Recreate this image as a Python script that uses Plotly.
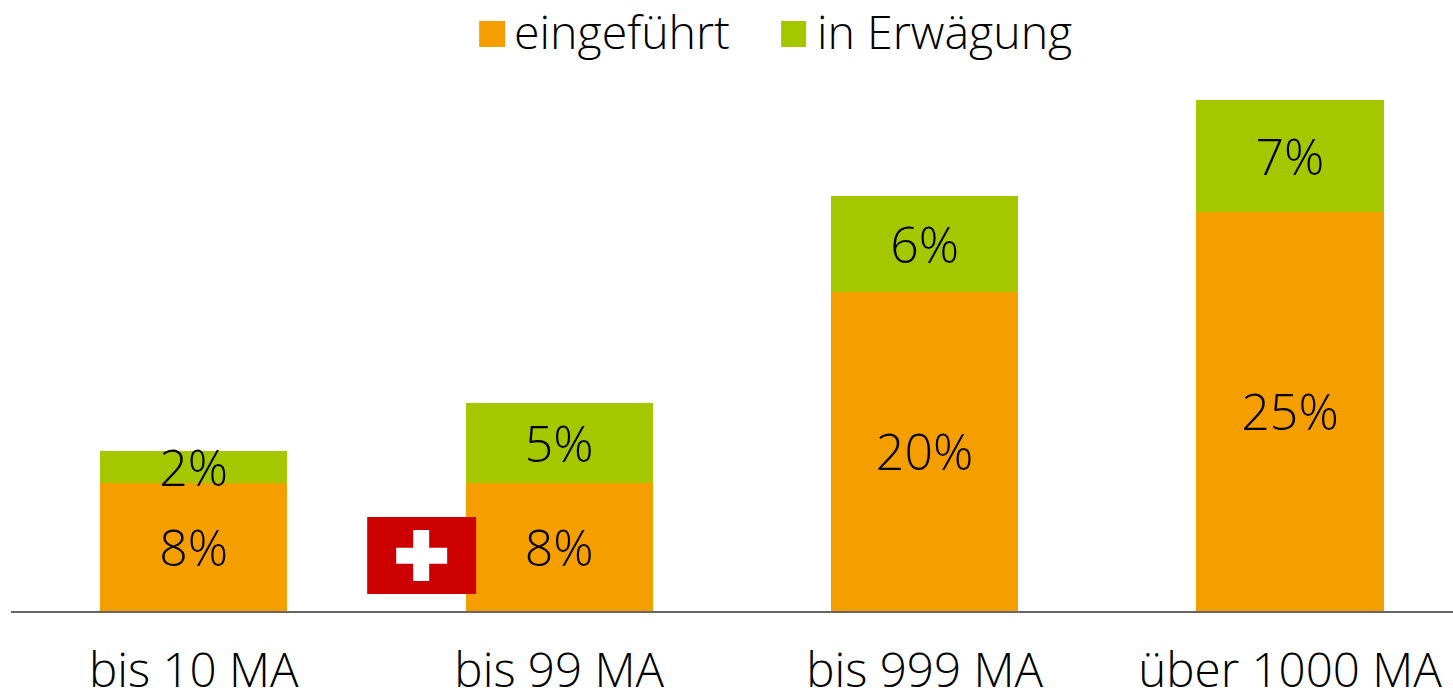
import plotly.graph_objects as go

categories = ["bis 10 MA", "bis 99 MA", "bis 999 MA", "über 1000 MA"]
eingefuehrt = [8, 8, 20, 25]
in_erwaegung = [2, 5, 6, 7]
labels_a = ["8%", "8%", "20%", "25%"]
labels_b = ["2%", "5%", "6%", "7%"]
ORANGE = "#F59E00"
GREEN = "#A5C700"
RED = "#CC0000"
FONT = "Open Sans"
W, H = 1453, 690
L, B = 10.75, 79


def px(x):
    return (x - L) / (W - L)


def py(y):
    return (H - B - y) / (H - B)


fig = go.Figure()
for name, vals, text, col in [("eingeführt", eingefuehrt, labels_a, ORANGE),
                              ("in Erwägung", in_erwaegung, labels_b, GREEN)]:
    fig.add_bar(x=categories, y=vals, name=name, text=text, marker_color=col, marker_line_width=0,
                textposition="inside", insidetextanchor="middle", textangle=0, constraintext="none",
                insidetextfont=dict(family=FONT, size=50, color="black", weight=300), showlegend=False)


def rect(x0, y0, x1, y1, col):
    return dict(type="rect", xref="paper", yref="paper", x0=px(x0), x1=px(x1), y0=py(y0), y1=py(y1),
                fillcolor=col, line_width=0, layer="above")


shapes = [
    rect(479, 21, 505, 47, ORANGE), rect(781, 21, 806, 47, GREEN),
    rect(367, 517, 476, 594, RED), rect(413, 530, 429, 581, "white"), rect(396, 547.7, 447, 563.7, "white"),
]
annotations = [
    dict(text="eingeführt", x=px(512), y=py(31), xref="paper", yref="paper", xanchor="left", yanchor="middle",
         showarrow=False, font=dict(family=FONT, size=46.5, color="black", weight=300)),
    dict(text="in Erwägung", x=px(815), y=py(31), xref="paper", yref="paper", xanchor="left", yanchor="middle",
         showarrow=False, font=dict(family=FONT, size=46.5, color="black", weight=300)),
]
fig.update_layout(
    width=W, height=H, margin=dict(l=L, r=0, t=0, b=B, pad=0), barmode="stack", bargap=0.488,
    paper_bgcolor="white", plot_bgcolor="white", shapes=shapes, annotations=annotations,
    xaxis=dict(type="category", range=[-0.5, 3.446], showgrid=False, zeroline=False, showline=True, linecolor="#666666",
               linewidth=1.5, ticks="outside", ticklen=17, tickcolor="rgba(0,0,0,0)", automargin=False,
               tickfont=dict(family=FONT, size=47.5, color="black", weight=300)),
    yaxis=dict(range=[0, 38.26], visible=False),
)
fig.write_html("out.html", config=dict(displayModeBar=False),
               post_script="document.body.style.margin='0';document.body.style.overflow='hidden';")
